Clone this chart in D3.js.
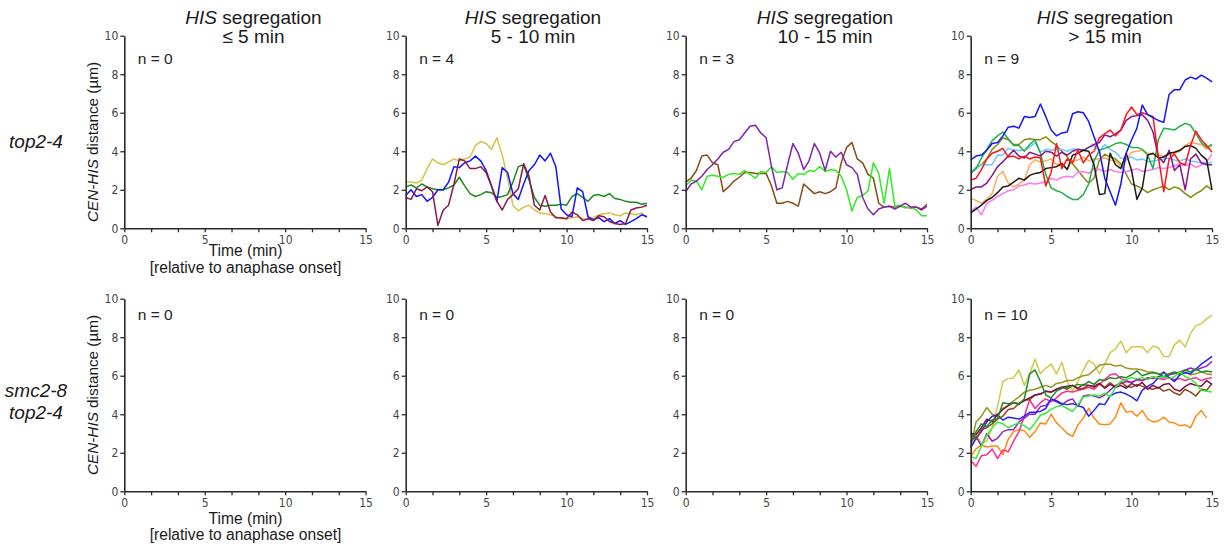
<!DOCTYPE html>
<html>
<head>
<meta charset="utf-8">
<script src="https://cdn.jsdelivr.net/npm/d3@7"></script>
<style>
  html, body { margin: 0; padding: 0; background: #fff; }
  svg { display: block; }
</style>
</head>
<body>
<svg id="chart" width="1225" height="552"></svg>
<script>
// ---------------------------------------------------------------
// Axis ticks and labels
// ---------------------------------------------------------------
const yTicks = [0, 2, 4, 6, 8, 10];
const xLabelTicks = [0, 5, 10, 15];
const xMinorTicks = [0, 5/3, 10/3, 5, 20/3, 25/3, 10, 35/3, 40/3, 15];
const segregationClasses = ["\u2264 5 min", "5 - 10 min", "10 - 15 min", "> 15 min"];
const strainLabels = [["top2-4"], ["smc2-8", "top2-4"]];

// CEN-HIS distance (µm), one sample every 1/3 min from anaphase onset
const sampleStep = 1 / 3;

// top2-4, HIS segregation 5 - 10 min
const t510Yellow = [2.4,2.4,2.35,2.5,3.1,3.6,3.4,3.3,3.45,3.6,3.5,3.6,3.7,4.3,4.5,4.4,4.1,4.7,3.8,2.6,1.2,0.9,1.1,1.2,0.95,0.8,0.75,0.7,0.6,0.5,0.5,0.55,0.6,0.5,0.45,0.55,0.7,0.75,0.8,0.7,0.65,0.8,0.75,0.7,0.8,0.55];
const t510Blue = [1.7,2.0,1.65,1.75,1.4,1.6,2.0,2.0,2.4,3.2,3.15,3.4,3.5,3.75,3.5,3.0,2.2,1.4,3.15,2.9,1.8,1.5,2.3,3.0,3.3,3.8,3.5,3.9,3.2,1.0,0.7,0.6,2.1,1.9,0.6,0.45,0.55,0.35,0.5,0.25,0.4,0.2,0.35,0.5,0.7,0.6];
const t510Green = [2.15,2.25,2.1,2.3,2.15,2.05,2.0,2.0,2.1,2.25,2.65,2.2,1.8,1.65,1.75,1.9,1.85,1.6,1.65,1.75,2.4,3.2,3.3,2.5,1.6,1.2,1.15,1.2,1.2,1.25,1.2,1.65,1.8,1.6,1.4,1.7,1.75,1.65,1.8,1.55,1.5,1.4,1.35,1.35,1.25,1.3];
const t510Maroon = [1.6,1.5,2.05,1.95,2.15,1.9,0.15,0.95,1.2,2.3,3.6,3.5,3.1,3.1,3.2,2.9,2.2,1.4,0.95,1.5,1.75,2.05,3.35,2.7,1.2,0.95,1.7,0.85,0.55,0.55,0.5,0.85,0.7,0.4,0.5,0.4,0.65,0.6,0.35,0.25,0.2,0.25,0.95,1.05,1.1,1.2];

// top2-4, HIS segregation 10 - 15 min
const t1015Purple = [1.9,2.3,2.45,2.7,3.05,3.3,3.6,3.95,4.1,4.5,4.6,4.95,5.3,5.35,4.95,4.7,3.2,2.0,2.1,3.3,4.4,3.9,3.05,3.5,4.4,3.9,3.0,4.0,3.7,3.95,3.3,3.15,2.8,1.6,1.0,0.7,1.0,1.1,1.15,1.0,1.15,1.3,1.1,1.1,0.95,1.15];
const t1015Brown = [2.4,2.6,3.0,3.75,3.8,3.4,3.3,1.9,2.15,2.45,2.65,2.9,2.9,2.85,2.85,2.85,2.2,1.3,1.3,1.4,1.3,1.15,2.3,2.05,1.8,1.9,1.8,1.9,2.1,3.4,4.2,4.45,3.6,3.4,2.8,2.6,1.3,1.1,1.15,1.1,1.15,1.1,1.05,1.1,1.0,1.25];
const t1015Lime = [2.2,2.5,2.45,2.0,2.7,2.75,2.7,2.65,2.8,2.85,2.8,3.0,2.8,2.6,2.95,2.9,3.2,2.9,2.95,2.9,2.55,2.85,2.8,3.0,2.95,3.2,2.95,3.05,3.0,2.7,2.0,0.9,1.6,1.7,1.95,3.4,2.85,1.3,3.1,1.15,1.2,1.05,1.1,0.95,0.65,0.65];

// top2-4, HIS segregation > 15 min
const t15Blue = [3.55,3.75,3.8,4.05,4.4,4.45,4.8,5.25,5.3,5.2,5.8,5.75,5.8,6.45,5.8,5.1,4.8,4.95,5.0,5.95,6.05,6.0,5.55,4.75,4.0,2.6,1.9,1.2,2.3,3.9,4.6,5.2,6.4,5.9,5.75,5.6,5.5,6.95,7.2,7.2,7.7,7.85,7.75,7.95,7.8,7.6];
const t15Red = [2.5,2.6,3.05,3.6,3.9,4.0,4.15,3.7,3.75,3.6,3.75,3.6,3.7,3.65,2.2,2.9,4.4,3.1,3.6,3.4,4.05,3.4,3.8,4.0,4.7,4.9,5.1,4.8,5.1,5.9,6.3,5.9,6.0,5.9,5.8,3.7,1.9,3.6,3.85,3.4,3.3,4.3,5.05,4.6,4.3,3.95];
const t15Green = [2.85,3.1,3.65,4.1,4.55,4.8,5.0,4.65,4.3,4.3,4.0,4.35,4.6,3.9,2.8,2.1,1.95,1.85,1.65,1.5,1.5,1.75,2.3,3.5,4.05,4.15,4.25,4.4,4.45,4.35,4.2,4.2,4.1,3.8,3.1,4.6,5.2,5.15,5.1,5.3,5.45,5.35,4.9,4.45,4.2,4.35];
const t15Purple = [2.0,2.15,2.15,2.35,2.75,3.2,3.45,3.75,4.05,3.75,3.65,3.95,3.85,3.75,4.0,3.95,3.75,3.95,3.8,4.0,4.1,4.05,4.2,4.35,4.45,4.85,4.75,4.9,5.1,5.6,5.8,5.85,5.9,5.6,5.0,3.7,3.4,4.05,3.0,3.3,2.0,3.6,3.85,3.4,3.3,3.3];
const t15Olive = [2.85,3.15,3.3,3.6,4.1,4.35,4.7,4.6,4.35,4.35,4.6,4.65,4.6,4.6,4.75,4.5,4.3,4.0,3.7,3.35,3.0,2.65,2.35,2.6,3.55,3.85,3.7,3.6,3.35,2.8,2.3,2.2,2.05,1.85,2.0,2.1,2.2,2.0,2.15,2.05,1.8,1.6,1.8,1.95,2.2,2.0];
const t15Sky = [2.95,3.1,3.3,3.3,3.3,3.8,3.8,4.15,4.05,4.05,4.05,4.2,4.45,3.95,4.1,4.05,4.1,4.1,4.0,4.1,4.1,4.05,4.2,4.3,4.0,4.35,4.1,3.95,3.65,3.6,3.7,3.55,3.6,3.45,3.5,3.55,3.6,3.65,3.55,3.5,3.6,3.5,3.45,3.4,3.35,3.45];
const t15Orange = [1.55,1.45,1.3,1.5,1.8,2.7,2.95,2.35,2.15,2.3,2.5,3.3,3.55,3.45,3.5,3.6,3.3,3.4,3.05,3.5,3.55,3.7,3.5,3.6,3.6,3.65,3.55,3.5,3.2,3.55,3.95,4.0,4.05,3.9,3.85,3.8,3.75,3.8,3.9,4.0,4.3,4.45,4.4,4.35,4.1,4.3];
const t15Pink = [0.85,1.1,0.7,1.3,1.45,1.65,1.8,1.95,2.0,2.2,2.25,2.35,2.3,2.35,2.4,2.6,2.5,2.65,2.7,2.65,2.9,2.95,2.85,3.1,3.05,2.95,3.05,2.95,2.9,2.95,3.0,3.1,2.95,3.0,3.05,3.15,3.1,3.15,3.25,3.3,3.25,3.35,3.15,3.3,3.45,3.85];
const t15Black = [0.8,1.0,1.2,1.45,1.6,1.85,2.15,2.2,2.4,2.6,2.5,2.75,2.85,2.9,3.1,3.15,3.2,3.35,3.05,3.8,3.9,4.05,4.0,3.3,1.75,1.8,3.9,3.3,3.1,3.9,3.0,1.5,2.1,3.8,3.9,3.65,3.7,3.9,3.95,4.05,4.25,4.3,4.15,3.8,3.55,2.0];

// smc2-8 top2-4, HIS segregation > 15 min
const s15Khaki = [2.3,2.9,2.5,2.6,3.3,4.4,5.7,5.85,5.9,6.3,5.5,6.1,6.85,6.1,6.4,6.6,6.1,6.7,5.7,5.2,5.7,6.3,6.8,6.6,6.1,6.6,7.2,7.4,7.8,7.2,7.5,7.5,7.5,7.2,7.55,7.45,7.0,7.0,7.6,7.85,7.5,8.2,8.6,8.7,8.95,9.15];
const s15Olive = [2.3,3.6,3.9,4.35,4.0,3.9,4.3,4.45,4.7,4.9,5.15,5.25,5.3,5.4,5.5,5.4,5.6,5.65,5.75,5.75,5.9,6.0,6.05,6.3,6.55,6.6,6.6,6.5,6.55,6.4,6.35,6.35,6.3,6.2,6.2,6.1,6.15,6.05,6.15,6.05,6.2,6.05,6.1,6.2,6.1,6.05];
const s15Orange = [1.8,2.2,2.4,2.3,2.35,2.35,1.9,2.7,3.1,3.2,3.15,2.8,3.1,3.55,3.5,4.0,3.55,3.3,3.0,2.85,3.45,3.8,4.3,3.8,3.5,3.45,3.5,3.85,4.6,4.1,4.15,3.9,4.2,3.75,3.6,3.65,3.85,3.6,3.55,3.4,3.45,3.3,3.9,4.2,3.8];
const s15Blue = [2.25,2.75,3.1,3.6,3.9,3.95,3.7,3.85,3.8,3.75,3.9,4.1,4.1,4.15,4.3,4.8,4.7,4.55,4.5,4.55,4.45,4.35,3.9,4.2,4.55,4.5,4.95,5.1,5.15,5.05,4.9,4.7,5.25,5.45,5.6,5.9,6.2,5.9,5.7,6.05,6.15,6.1,6.35,6.6,6.8,7.0];
const s15Purple = [2.6,2.85,2.35,3.0,2.6,2.75,3.1,3.2,3.2,3.6,3.8,4.0,4.0,4.4,4.45,4.75,4.65,4.5,4.7,4.8,4.4,4.95,5.0,4.95,4.85,5.0,5.25,5.5,5.6,5.7,5.65,5.8,5.75,5.9,5.85,5.95,5.9,6.05,6.1,6.2,6.3,6.4,6.3,6.4,6.5,6.75];
const s15Pink = [1.6,1.3,1.85,1.9,2.2,1.7,2.15,2.05,2.6,3.1,3.9,4.75,4.3,4.6,4.8,4.65,4.85,5.1,5.2,5.15,5.25,5.3,5.4,5.3,5.55,5.8,6.05,6.1,5.85,5.75,5.65,5.8,5.75,5.85,5.95,5.85,5.8,5.9,5.8,5.85,5.75,5.85,5.9,5.75,5.85,5.9];
const s15Lime = [1.8,1.7,2.35,2.9,3.3,3.6,3.5,3.3,3.45,3.55,3.4,3.2,3.55,3.95,4.05,4.25,4.4,4.45,4.3,4.15,4.5,4.9,4.95,5.0,4.95,5.1,4.9,5.4,5.7,5.8,5.9,5.85,5.9,5.8,5.95,5.9,5.95,5.85,5.95,6.2,5.95,5.85,5.6,5.25,5.2,5.15];
const s15Green = [2.5,3.1,3.5,3.35,3.7,3.75,4.6,4.55,4.6,4.5,4.8,6.1,6.3,5.7,5.0,4.85,5.2,5.35,5.4,5.45,5.55,5.5,5.7,5.55,5.8,5.75,5.9,5.85,5.95,5.9,6.05,6.25,6.0,6.1,6.15,6.1,5.95,6.1,6.2,6.1,6.3,6.2,6.35,6.2,6.25,6.2];
const s15Maroon = [3.0,2.95,3.3,3.75,3.6,4.0,4.25,4.45,4.6,4.55,4.7,4.85,5.0,5.05,5.2,5.15,5.3,5.4,5.45,5.5,5.35,5.55,5.5,5.45,5.6,5.35,5.55,5.4,5.5,5.35,5.6,5.45,5.65,5.3,5.5,5.35,5.55,5.6,5.3,5.2,5.45,5.6,5.5,5.45,5.75,5.55];
const s15Brown = [3.0,2.7,3.2,3.3,3.5,3.75,3.9,4.25,4.3,4.55,4.75,4.75,5.0,5.05,5.2,5.15,5.3,5.4,5.3,5.5,5.3,5.35,5.5,5.4,5.6,5.4,5.65,5.4,5.7,5.45,5.4,5.55,5.45,5.35,5.3,5.4,5.2,5.3,5.1,5.0,5.3,5.15,4.95,5.3,5.25,5.6];

// Cells per panel: [row][segregation class]
const panelTraces = [
  [
    [],
    [{ values: t510Yellow, color: "#d8c245" }, { values: t510Green, color: "#1b8a1b" },
     { values: t510Blue, color: "#1414ff" }, { values: t510Maroon, color: "#8a1848" }],
    [{ values: t1015Brown, color: "#8c4a17" }, { values: t1015Lime, color: "#30ea22" },
     { values: t1015Purple, color: "#8522ad" }],
    [{ values: t15Olive, color: "#888812" }, { values: t15Sky, color: "#6cc8ff" },
     { values: t15Orange, color: "#ffaa55" }, { values: t15Pink, color: "#ff78f0" },
     { values: t15Green, color: "#22b048" }, { values: t15Purple, color: "#86168a" },
     { values: t15Black, color: "#1a1a1a" }, { values: t15Red, color: "#ff1414" },
     { values: t15Blue, color: "#1414ff" }]
  ],
  [
    [], [], [],
    [{ values: s15Khaki, color: "#d2c84c" }, { values: s15Orange, color: "#ff8a12" },
     { values: s15Olive, color: "#9a9420" }, { values: s15Pink, color: "#ff2a8e" },
     { values: s15Purple, color: "#9a22c4" }, { values: s15Blue, color: "#2020ff" },
     { values: s15Brown, color: "#8c4a17" }, { values: s15Maroon, color: "#820f45" },
     { values: s15Green, color: "#1c8c24" }, { values: s15Lime, color: "#33ee33" }]
  ]
];

// ---------------------------------------------------------------
// Layout
// ---------------------------------------------------------------
const layout = {
  panelLeft: [124.3, 405.7, 685.7, 970.7],
  panelWidth: 241.3,
  rowTop: [35.7, 298.7],
  panelHeight: 192.6,
  titleCenter: [253.5, 533, 825, 1105],
  titleBaselines: [24, 42.7],
  nBaseline: [64, 319.5],
  yLabelX: 97.5,
  yLabelCenter: [142, 395],
  xLabelCenter: 245.5,
  xLabelBaselines: [[256, 272.5], [523.5, 540]],
  strainCenter: 36,
  strainBaselines: [[148], [397, 418.5]]
};

const textFont = "'Liberation Sans', Arial, Helvetica, sans-serif";
const tickFont = "'Liberation Sans Narrow', 'Arial Narrow', 'DejaVu Sans Condensed', sans-serif";

const svg = d3.select("#chart");

const x = d3.scaleLinear().domain([0, 15]);
const y = d3.scaleLinear().domain([0, 10]);

layout.rowTop.forEach((top, r) => {
  layout.panelLeft.forEach((left, c) => {
    const xs = x.copy().range([left, left + layout.panelWidth]);
    const ys = y.copy().range([top + layout.panelHeight, top]);
    const g = svg.append("g");

    // traces
    const line = d3.line()
      .x((v, i) => xs(i * sampleStep))
      .y(v => ys(v));
    g.selectAll("path.trace")
      .data(panelTraces[r][c])
      .join("path")
      .attr("class", "trace")
      .attr("fill", "none")
      .attr("stroke", d => d.color)
      .attr("stroke-width", 1.5)
      .attr("stroke-linejoin", "round")
      .attr("d", d => line(d.values));

    // y axis
    const yAxis = g.append("g")
      .attr("transform", `translate(${left},0)`)
      .call(d3.axisLeft(ys).tickValues(yTicks).tickSize(4).tickSizeOuter(0).tickPadding(2));
    // x axis
    const xAxis = g.append("g")
      .attr("transform", `translate(0,${top + layout.panelHeight})`)
      .call(d3.axisBottom(xs).tickValues(xMinorTicks).tickSize(4).tickSizeOuter(0).tickPadding(3)
        .tickFormat(d => {
          const lab = xLabelTicks.find(t => Math.abs(t - d) < 1e-6);
          return lab === undefined ? "" : String(lab);
        }));
    [yAxis, xAxis].forEach(a => {
      a.select(".domain").attr("stroke", "#2a2a2a").attr("stroke-width", 1.6);
      a.selectAll(".tick line").attr("stroke", "#2a2a2a").attr("stroke-width", 1.3);
      a.selectAll(".tick text")
        .attr("fill", "#444")
        .style("font-family", tickFont)
        .style("font-size", "12px");
    });

    // n = count
    g.append("text")
      .attr("x", left + 13.5)
      .attr("y", layout.nBaseline[r])
      .style("font-family", textFont)
      .style("font-size", "15.5px")
      .attr("fill", "#222")
      .text(`n = ${panelTraces[r][c].length}`);

    // column titles
    if (r === 0) {
      const t = svg.append("text")
        .attr("text-anchor", "middle")
        .style("font-family", textFont)
        .style("font-size", "19px")
        .attr("fill", "#1a1a1a");
      const l1 = t.append("tspan").attr("x", layout.titleCenter[c]).attr("y", layout.titleBaselines[0]);
      l1.append("tspan").style("font-style", "italic").text("HIS");
      l1.append("tspan").text(" segregation");
      t.append("tspan").attr("x", layout.titleCenter[c]).attr("y", layout.titleBaselines[1])
        .text(segregationClasses[c]);
    }

    // axis titles and strain name on the first panel of each row
    if (c === 0) {
      const yl = svg.append("text")
        .attr("transform", `translate(${layout.yLabelX},${layout.yLabelCenter[r]}) rotate(-90)`)
        .attr("text-anchor", "middle")
        .style("font-family", textFont)
        .style("font-size", "15.3px")
        .attr("fill", "#1a1a1a");
      yl.append("tspan").style("font-style", "italic").text("CEN-HIS");
      yl.append("tspan").text(" distance (\u00b5m)");

      ["Time (min)", "[relative to anaphase onset]"].forEach((s, i) => {
        svg.append("text")
          .attr("x", layout.xLabelCenter)
          .attr("y", layout.xLabelBaselines[r][i])
          .attr("text-anchor", "middle")
          .style("font-family", textFont)
          .style("font-size", "15.6px")
          .attr("fill", "#1a1a1a")
          .text(s);
      });

      // strain name, one line per allele
      strainLabels[r].forEach((s, i) => {
        svg.append("text")
          .attr("x", layout.strainCenter)
          .attr("y", layout.strainBaselines[r][i])
          .attr("text-anchor", "middle")
          .style("font-family", textFont)
          .style("font-size", "19px")
          .style("font-style", "italic")
          .attr("fill", "#1a1a1a")
          .text(s);
      });
    }
  });
});
</script>
</body>
</html>
